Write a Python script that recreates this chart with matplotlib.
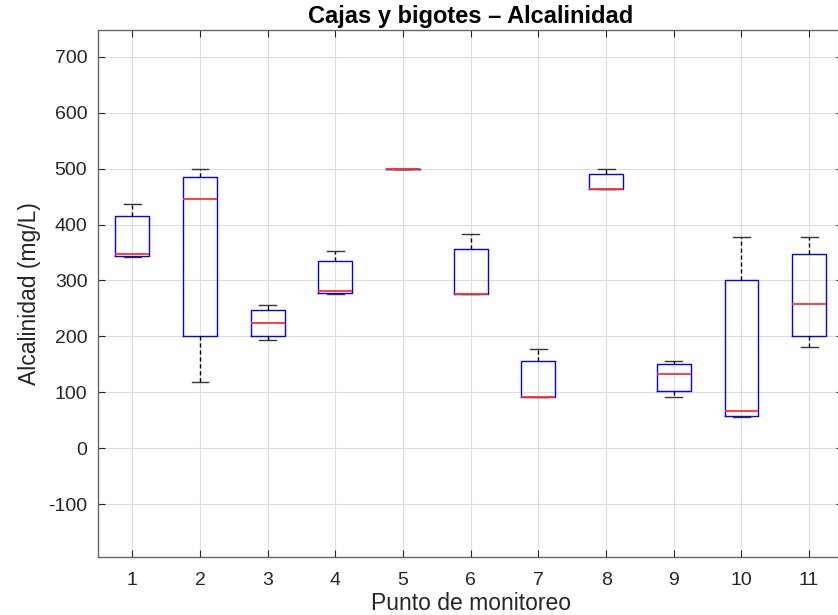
import matplotlib
matplotlib.use("Agg")
import matplotlib.pyplot as plt

puntos = [1, 2, 3, 4, 5, 6, 7, 8, 9, 10, 11]
whis_lo = [342, 118, 193, 275, 500, 276, 92, 464, 92, 56, 181]
q1 = [343, 200, 200, 277, 500, 276, 92, 464, 102, 58, 200]
median = [348, 445, 224, 281, 500, 276, 92, 464, 133, 67, 258]
q3 = [415, 486, 248, 334, 500, 356, 156, 490, 151, 300, 347]
whis_hi = [437, 499, 256, 352, 500, 384, 178, 499, 156, 377, 377]

plt.rcParams['font.family'] = ['Liberation Sans', 'DejaVu Sans']
plt.rcParams['axes.unicode_minus'] = False

fig = plt.figure(figsize=(8.38, 6.15), dpi=100)
ax = fig.add_axes([0.1175, 0.0948, 0.8884, 0.8564])

stats = []
for i in range(len(puntos)):
    stats.append({
        'label': str(puntos[i]),
        'whislo': whis_lo[i], 'q1': q1[i], 'med': median[i],
        'q3': q3[i], 'whishi': whis_hi[i], 'fliers': [],
    })

bp = ax.bxp(stats, positions=puntos, widths=0.5, showfliers=False,
            boxprops=dict(color='#0000ff', linewidth=1.0),
            medianprops=dict(color='#ff3030', linewidth=1.3),
            whiskerprops=dict(color='black', linestyle=(0, (3, 2)), linewidth=1.0),
            capprops=dict(color='#333333', linewidth=1.0),
            capwidths=0.25, zorder=3)
for m in bp['medians']:
    m.set_zorder(4)

ax.set_xlim(0.5, 11.5)
ax.set_ylim(-194, 748)
ax.set_xticks(puntos)
ax.set_xticklabels([str(p) for p in puntos])
ax.set_yticks([-100, 0, 100, 200, 300, 400, 500, 600, 700])

ax.grid(True, color='#dddddd', linewidth=0.8)
ax.set_axisbelow(True)
ax.tick_params(direction='in', length=5, width=0.8, top=True, right=True,
               labelsize=14, colors='#262626', pad=8)
ax.tick_params(axis='x', pad=11)
for s in ax.spines.values():
    s.set_color('#666666')
    s.set_linewidth(1.0)

ax.set_title('Cajas y bigotes – Alcalinidad', fontsize=17, fontweight='bold', pad=5)
ax.set_xlabel('Punto de monitoreo', fontsize=16.5, color='#262626', labelpad=2)
ax.set_ylabel('Alcalinidad (mg/L)', fontsize=16.5, color='#262626', labelpad=5)

fig.savefig('out.png', dpi=100)
